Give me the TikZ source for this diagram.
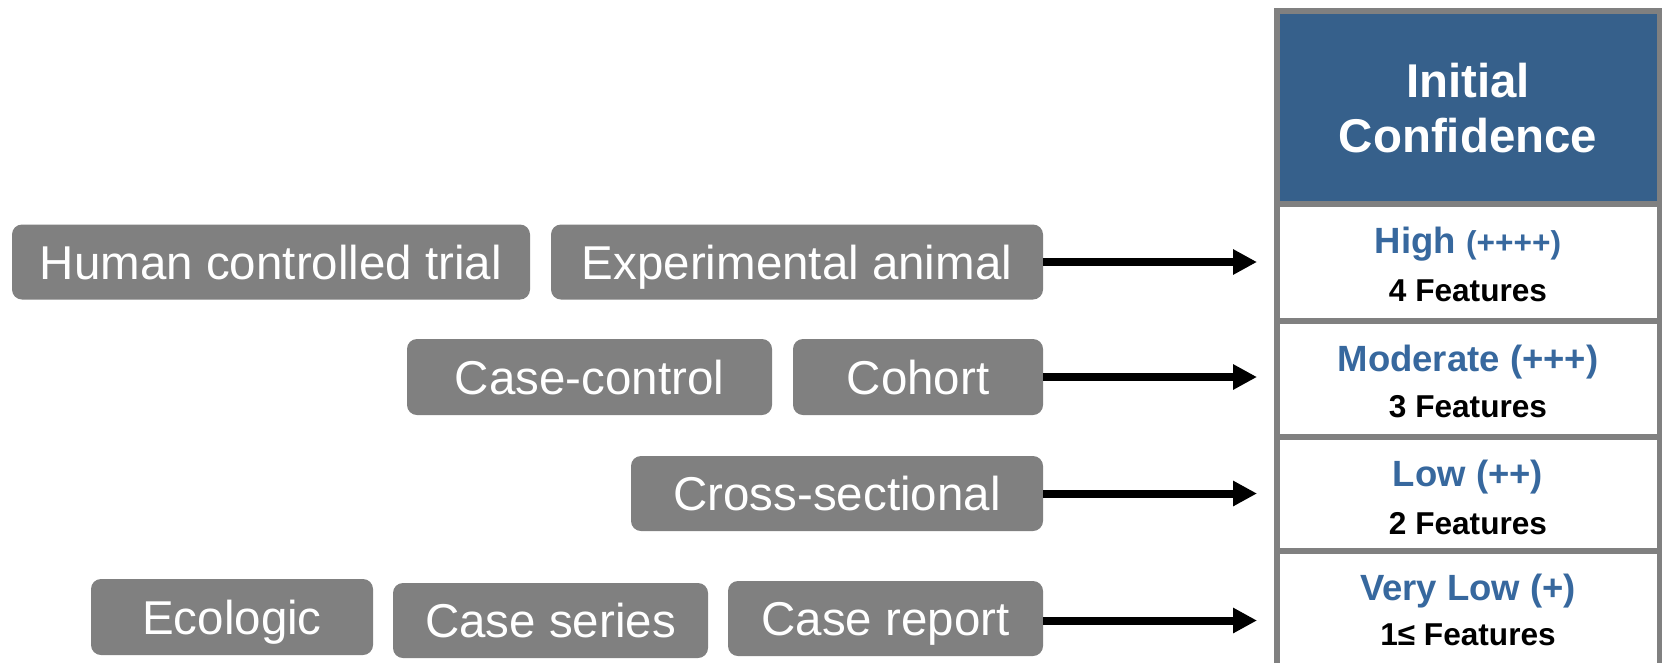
\documentclass[tikz,border=0pt]{standalone}
\usepackage{fontspec}
\setmainfont{Liberation Sans}
\usetikzlibrary{arrows.meta}
\definecolor{boxgray}{RGB}{128,128,128}
\definecolor{headblue}{RGB}{54,96,139}
\definecolor{lvlblue}{RGB}{55,104,158}
\begin{document}
\begin{tikzpicture}[x=1pt,y=-1pt,
  study/.style={fill=boxgray, rounded corners=10pt, text=white, inner sep=0pt, outer sep=0pt,
    font=\fontsize{47.5}{57}\selectfont, text height=34pt, text depth=0pt},
  cell/.style={draw=boxgray, line width=6pt, fill=white, minimum width=383pt,
    inner sep=0pt, outer sep=0pt},
  headtext/.style={anchor=base, text=white, inner sep=0pt,
    font=\bfseries\fontsize{47.4}{55}\selectfont},
  lvl/.style={anchor=base, text=lvlblue, inner sep=0pt,
    font=\bfseries\fontsize{36.5}{44}\selectfont},
  feat/.style={anchor=base, text=black, inner sep=0pt,
    font=\bfseries\fontsize{31.6}{38}\selectfont},
  flow/.style={line width=8pt, -{Triangle[length=24pt,width=24pt]}}]

\clip (0,0) rectangle (1662,662);
\fill[white] (0,0) rectangle (1662,662);

% study designs
\node[study, minimum width=518pt, minimum height=75pt] (hct)  at (271,262)     {Human controlled trial};
\node[study, minimum width=492pt, minimum height=75pt] (ea)   at (797,262)     {Experimental animal};
\node[study, minimum width=365pt, minimum height=76pt] (cc)   at (589.5,377)   {Case-control};
\node[study, minimum width=250pt, minimum height=76pt] (coh)  at (918,377)     {Cohort};
\node[study, minimum width=412pt, minimum height=75pt] (cs)   at (837,493.5)   {Cross-sectional};
\node[study, minimum width=282pt, minimum height=76pt] (eco)  at (232,617)     {Ecologic};
\node[study, minimum width=315pt, minimum height=75pt] (cser) at (550.5,620.5) {Case series};
\node[study, minimum width=315pt, minimum height=75pt] (crep) at (885.5,618.5) {Case report};

% confidence table
\node[cell, fill=headblue, minimum height=193pt] (head) at (1468,107) {};
\node[cell, minimum height=117pt]   (high) at (1468,262)    {};
\node[cell, minimum height=116.5pt] (mod)  at (1468,378.75) {};
\node[cell, minimum height=114pt]   (low)  at (1468,494)    {};
\node[cell, minimum height=117pt]   (vlow) at (1468,609.5)  {};

\node[headtext] (headA) at (1468,97)  {Initial};
\node[headtext] (headB) at (1468,152) {Confidence};

\node[lvl]  (highT) at (1468,253) {High {\fontsize{31.6}{38}\selectfont(++++)}};
\node[feat] (highF) at (1468,301) {4 Features};
\node[lvl]  (modT)  at (1468,371) {Moderate (+++)};
\node[feat] (modF)  at (1468,417) {3 Features};
\node[lvl]  (lowT)  at (1468,486) {Low (++)};
\node[feat] (lowF)  at (1468,534) {2 Features};
\node[lvl]  (vlowT) at (1468,600) {Very Low (+)};
\node[feat] (vlowF) at (1468,645) {1≤ Features};

% arrows into the table
\coordinate (tip) at (1257,0);
\draw[flow] (ea.east)  -- (ea.east -| tip);
\draw[flow] (coh.east) -- (coh.east -| tip);
\draw[flow] (cs.east)  -- (cs.east -| tip);
\draw[flow] ([yshift=-2pt]crep.east) -- ([yshift=-2pt]crep.east -| tip);
\end{tikzpicture}
\end{document}
